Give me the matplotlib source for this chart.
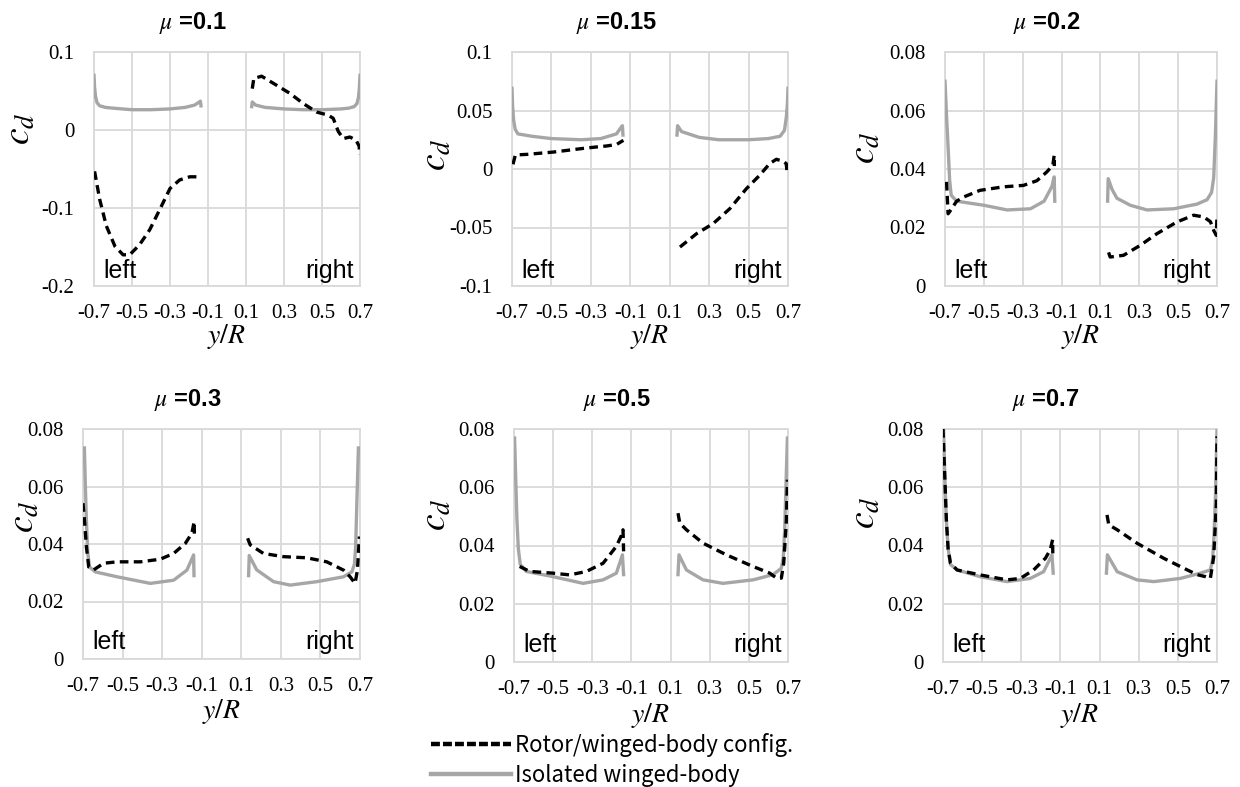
import matplotlib
matplotlib.use("Agg")
import matplotlib.pyplot as plt
import numpy as np
from matplotlib.lines import Line2D
from matplotlib.transforms import offset_copy

# spanwise drag coefficient, rotor/winged-body vs isolated winged-body
mu_labels = ["0.1", "0.15", "0.2", "0.3", "0.5", "0.7"]
xticks = [-0.7, -0.5, -0.3, -0.1, 0.1, 0.3, 0.5, 0.7]

# mu = 0.1
mu01_iso_left = [(-0.700, 0.070), (-0.697, 0.055), (-0.692, 0.043), (-0.684, 0.035), (-0.670, 0.031),
                 (-0.640, 0.029), (-0.600, 0.028), (-0.500, 0.026), (-0.400, 0.026), (-0.300, 0.027),
                 (-0.220, 0.029), (-0.170, 0.032), (-0.145, 0.036), (-0.140, 0.037), (-0.137, 0.031)]
mu01_iso_right = [(0.130, 0.030), (0.133, 0.036), (0.150, 0.032), (0.200, 0.029), (0.300, 0.027),
                  (0.400, 0.026), (0.500, 0.026), (0.600, 0.027), (0.640, 0.028), (0.670, 0.030),
                  (0.684, 0.034), (0.692, 0.042), (0.697, 0.055), (0.700, 0.070)]
mu01_rot_left = [(-0.697, -0.053), (-0.670, -0.089), (-0.635, -0.123), (-0.590, -0.149), (-0.547, -0.160),
                 (-0.512, -0.160), (-0.460, -0.147), (-0.407, -0.128), (-0.354, -0.102), (-0.300, -0.075),
                 (-0.249, -0.064), (-0.196, -0.060), (-0.160, -0.060), (-0.143, -0.055)]
mu01_rot_right = [(0.133, 0.053), (0.141, 0.066), (0.182, 0.069), (0.243, 0.060), (0.331, 0.047),
                  (0.401, 0.034), (0.472, 0.023), (0.533, 0.019), (0.559, 0.015), (0.586, -0.002),
                  (0.612, -0.011), (0.647, -0.009), (0.679, -0.013), (0.696, -0.021), (0.697, -0.032)]

# mu = 0.15
mu015_iso_left = [(-0.700, 0.069), (-0.697, 0.054), (-0.692, 0.042), (-0.684, 0.034), (-0.670, 0.030),
                  (-0.600, 0.028), (-0.500, 0.026), (-0.350, 0.025), (-0.250, 0.026), (-0.170, 0.030),
                  (-0.145, 0.036), (-0.140, 0.037), (-0.137, 0.029)]
mu015_iso_right = [(0.137, 0.029), (0.140, 0.037), (0.160, 0.032), (0.250, 0.027), (0.350, 0.025),
                   (0.500, 0.025), (0.600, 0.026), (0.660, 0.028), (0.682, 0.033), (0.692, 0.045),
                   (0.697, 0.056), (0.700, 0.069)]
mu015_rot_left = [(-0.695, 0.004), (-0.683, 0.012), (-0.624, 0.0125), (-0.489, 0.0145), (-0.320, 0.018),
                  (-0.219, 0.0197), (-0.169, 0.021), (-0.135, 0.0245)]
mu015_rot_right = [(0.152, -0.0667), (0.236, -0.0553), (0.320, -0.0467), (0.405, -0.0339), (0.489, -0.0168),
                   (0.556, -0.0054), (0.607, 0.0046), (0.641, 0.0083), (0.675, 0.0066), (0.691, 0.0046),
                   (0.697, -0.0054)]

# mu = 0.2
mu02_iso_left = [(-0.700, 0.070), (-0.692, 0.058), (-0.683, 0.046), (-0.676, 0.036), (-0.668, 0.031),
                 (-0.640, 0.029), (-0.500, 0.0276), (-0.380, 0.026), (-0.260, 0.0264), (-0.190, 0.029),
                 (-0.150, 0.034), (-0.138, 0.0373), (-0.135, 0.029)]
mu02_iso_right = [(0.137, 0.029), (0.140, 0.0367), (0.160, 0.033), (0.185, 0.030), (0.254, 0.0276),
                  (0.340, 0.026), (0.477, 0.0264), (0.597, 0.028), (0.649, 0.0295), (0.672, 0.032),
                  (0.683, 0.037), (0.692, 0.052), (0.700, 0.070)]
mu02_rot_left = [(-0.692, 0.0356), (-0.688, 0.030), (-0.684, 0.0247), (-0.670, 0.026), (-0.640, 0.029),
                 (-0.605, 0.0304), (-0.520, 0.0327), (-0.400, 0.0339), (-0.296, 0.0344), (-0.227, 0.036),
                 (-0.176, 0.039), (-0.145, 0.0413), (-0.138, 0.0447), (-0.137, 0.041)]
mu02_rot_right = [(0.142, 0.0115), (0.150, 0.0099), (0.219, 0.0105), (0.305, 0.0139), (0.391, 0.0179),
                  (0.494, 0.0219), (0.580, 0.0242), (0.632, 0.0236), (0.666, 0.022), (0.683, 0.019),
                  (0.697, 0.0173), (0.700, 0.0245)]

# mu = 0.3
mu03_iso_left = [(-0.693, 0.0734), (-0.688, 0.060), (-0.683, 0.0484), (-0.676, 0.037), (-0.667, 0.032),
                 (-0.638, 0.0303), (-0.528, 0.0286), (-0.360, 0.0263), (-0.242, 0.0274), (-0.175, 0.0309),
                 (-0.141, 0.0362), (-0.139, 0.029)]
mu03_iso_right = [(0.137, 0.029), (0.140, 0.036), (0.178, 0.031), (0.263, 0.0269), (0.347, 0.0257),
                  (0.482, 0.0269), (0.617, 0.0286), (0.659, 0.0303), (0.672, 0.033), (0.678, 0.039),
                  (0.684, 0.0542), (0.692, 0.0734)]
mu03_rot_left = [(-0.700, 0.0542), (-0.690, 0.046), (-0.683, 0.0391), (-0.671, 0.032), (-0.646, 0.031),
                 (-0.596, 0.0333), (-0.528, 0.0338), (-0.410, 0.0338), (-0.310, 0.0347), (-0.242, 0.0367),
                 (-0.183, 0.0402), (-0.150, 0.0437), (-0.138, 0.0478), (-0.137, 0.0426)]
mu03_rot_right = [(0.132, 0.042), (0.145, 0.0397), (0.212, 0.0367), (0.313, 0.0356), (0.431, 0.0352),
                  (0.532, 0.0338), (0.617, 0.0309), (0.650, 0.0286), (0.675, 0.0263), (0.687, 0.0309),
                  (0.697, 0.0426)]

# mu = 0.5
mu05_iso_left = [(-0.697, 0.0769), (-0.690, 0.060), (-0.685, 0.0488), (-0.678, 0.039), (-0.668, 0.0335),
                 (-0.637, 0.0311), (-0.500, 0.0293), (-0.347, 0.027), (-0.245, 0.0282), (-0.177, 0.0305),
                 (-0.146, 0.0368), (-0.140, 0.030)]
mu05_iso_right = [(0.138, 0.030), (0.143, 0.0368), (0.181, 0.0316), (0.266, 0.0282), (0.368, 0.027),
                  (0.521, 0.0282), (0.624, 0.030), (0.666, 0.0322), (0.676, 0.036), (0.683, 0.0454),
                  (0.692, 0.066), (0.697, 0.0769)]
mu05_rot_left = [(-0.671, 0.0328), (-0.620, 0.0311), (-0.500, 0.0305), (-0.415, 0.0299), (-0.330, 0.0311),
                 (-0.245, 0.0339), (-0.177, 0.0397), (-0.146, 0.0442), (-0.143, 0.0454), (-0.140, 0.038)]
mu05_rot_right = [(0.138, 0.0511), (0.147, 0.0477), (0.181, 0.0454), (0.266, 0.0408), (0.385, 0.0368),
                  (0.521, 0.0328), (0.607, 0.0305), (0.641, 0.0288), (0.666, 0.0288), (0.678, 0.0339),
                  (0.692, 0.0488), (0.697, 0.0626)]

# mu = 0.7
mu07_iso_left = [(-0.697, 0.080), (-0.690, 0.062), (-0.683, 0.0488), (-0.674, 0.039), (-0.662, 0.0335),
                 (-0.628, 0.0316), (-0.510, 0.0293), (-0.373, 0.0276), (-0.254, 0.0287), (-0.186, 0.031),
                 (-0.143, 0.0368), (-0.137, 0.0305)]
mu07_iso_right = [(0.135, 0.0305), (0.140, 0.0368), (0.190, 0.031), (0.291, 0.0282), (0.377, 0.0276),
                  (0.513, 0.0287), (0.615, 0.0305), (0.666, 0.0316), (0.677, 0.035), (0.683, 0.0408),
                  (0.692, 0.0568), (0.700, 0.080)]
mu07_rot_left = [(-0.700, 0.080), (-0.690, 0.062), (-0.683, 0.049), (-0.674, 0.039), (-0.662, 0.034),
                 (-0.628, 0.0316), (-0.510, 0.0299), (-0.373, 0.0282), (-0.305, 0.0287), (-0.237, 0.0316),
                 (-0.177, 0.0356), (-0.152, 0.0385), (-0.140, 0.042), (-0.139, 0.0373)]
mu07_rot_right = [(0.138, 0.0505), (0.147, 0.0471), (0.190, 0.0454), (0.291, 0.0408), (0.428, 0.0356),
                  (0.530, 0.0322), (0.598, 0.030), (0.641, 0.0293), (0.666, 0.0287), (0.683, 0.036),
                  (0.697, 0.0545), (0.700, 0.0775)]

yticks_list = [
    [-0.2, -0.1, 0, 0.1],
    [-0.1, -0.05, 0, 0.05, 0.1],
    [0, 0.02, 0.04, 0.06, 0.08],
    [0, 0.02, 0.04, 0.06, 0.08],
    [0, 0.02, 0.04, 0.06, 0.08],
    [0, 0.02, 0.04, 0.06, 0.08],
]
iso_data = [(mu01_iso_left, mu01_iso_right), (mu015_iso_left, mu015_iso_right), (mu02_iso_left, mu02_iso_right),
            (mu03_iso_left, mu03_iso_right), (mu05_iso_left, mu05_iso_right), (mu07_iso_left, mu07_iso_right)]
rot_data = [(mu01_rot_left, mu01_rot_right), (mu015_rot_left, mu015_rot_right), (mu02_rot_left, mu02_rot_right),
            (mu03_rot_left, mu03_rot_right), (mu05_rot_left, mu05_rot_right), (mu07_rot_left, mu07_rot_right)]

# layout in pixels: left, top, right, bottom of each plot area
W, H = 1240, 787
boxes = [(94, 52, 360, 286), (512, 52, 788, 286), (945, 52, 1217, 286),
         (83, 429, 360, 659), (514, 429, 788, 662), (943, 429, 1217, 662)]
ylab_pos = [(-0.21, 0.67), (-0.21, 0.56), (-0.23, 0.59), (-0.15, 0.62), (-0.22, 0.63), (-0.22, 0.64)]

plt.rcParams["font.family"] = ["Liberation Serif", "DejaVu Serif"]
plt.rcParams["mathtext.fontset"] = "stix"
plt.rcParams["axes.unicode_minus"] = False

GRID = "#D9D9D9"
GRAY = "#A6A6A6"
DASH = (0, (2.6, 1.6))

fig = plt.figure(figsize=(12.4, 7.87), dpi=100)


def px2fig(x, y):
    return x / W, 1 - y / H


for i in range(6):
    l, t, r, b = boxes[i]
    ax = fig.add_axes([l / W, 1 - b / H, (r - l) / W, (b - t) / H])
    for seg in iso_data[i]:
        xs, ys = np.array(seg).T
        ax.plot(xs, ys, color=GRAY, lw=2.4, zorder=3, solid_joinstyle="round")
    for seg in rot_data[i]:
        xs, ys = np.array(seg).T
        ax.plot(xs, ys, color="black", lw=2.4, linestyle=DASH, zorder=4)
    yt = yticks_list[i]
    ax.set_xlim(-0.7, 0.7)
    ax.set_ylim(yt[0], yt[-1])
    ax.set_xticks(xticks)
    ax.set_xticklabels([f"{v:g}" for v in xticks])
    ax.set_yticks(yt)
    ax.set_yticklabels([f"{v:g}" for v in yt])
    ax.grid(color=GRID, lw=1.3)
    ax.set_axisbelow(True)
    for s in ax.spines.values():
        s.set_color(GRID)
        s.set_linewidth(1.3)
    ax.tick_params(length=0, labelsize=15, pad=13)
    ax.tick_params(axis="y", pad=14)
    ax.set_ylabel(r"$c_d$", fontsize=27)
    ax.yaxis.set_label_coords(*ylab_pos[i])

    # side annotations
    off = 8 if i < 3 else 10
    ax.text(0, 0, "left", transform=offset_copy(ax.transAxes, fig, x=9, y=off, units="dots"),
            fontsize=18, family="Liberation Sans", ha="left", va="baseline")
    ax.text(1, 0, "right", transform=offset_copy(ax.transAxes, fig, x=-6, y=off, units="dots"),
            fontsize=18, family="Liberation Sans", ha="right", va="baseline")

    # title and x label
    cx = (l + r) / 2
    ty = 23 if i < 3 else 400
    fig.text(*px2fig(cx - 34, ty), r"$\mu$ =" + mu_labels[i], ha="center", va="center",
             fontsize=17, fontweight="bold", family="Liberation Sans")
    fig.text(*px2fig(cx, b + (51 if i < 3 else 53)), r"$y/R$", ha="center", va="center", fontsize=20)

handles = [Line2D([], [], color="black", lw=3.2, linestyle=(0, (2.0, 0.7))),
           Line2D([], [], color=GRAY, lw=3.2)]
fig.legend(handles, ["Rotor/winged-body config.", "Isolated winged-body"],
           loc="center", bbox_to_anchor=px2fig(612, 760), frameon=False,
           prop={"family": "Noto Sans CJK JP", "size": 16},
           handlelength=3.6, handletextpad=0.15, labelspacing=0.3, borderpad=0)

fig.savefig("out.png", dpi=100)
